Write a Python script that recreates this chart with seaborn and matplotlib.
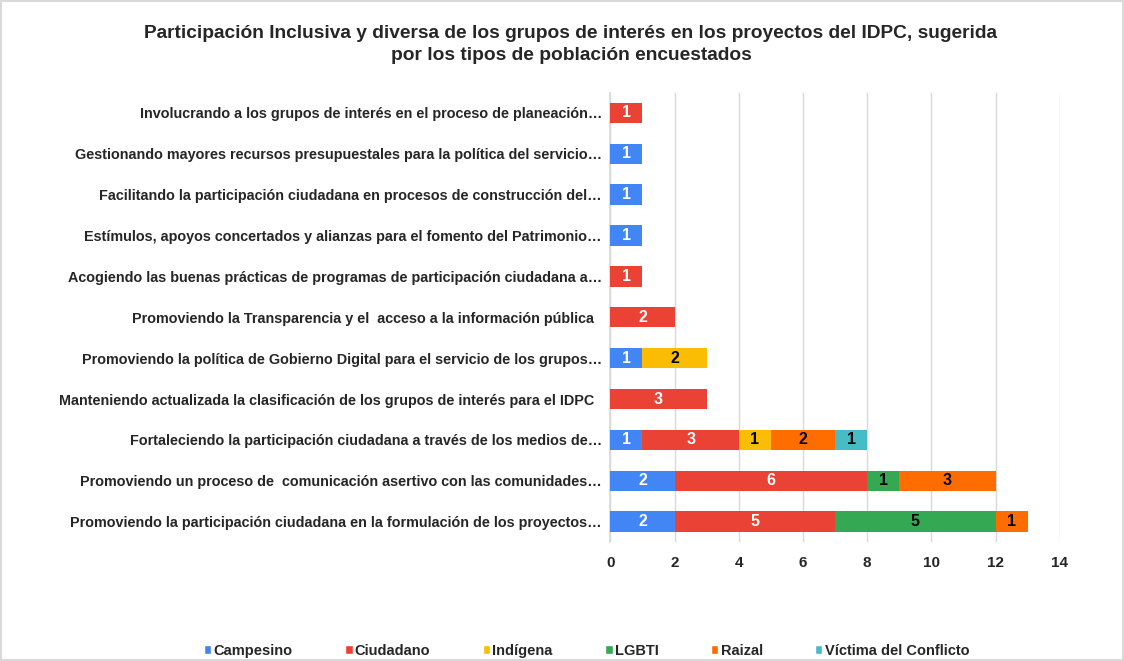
import matplotlib
matplotlib.use("Agg")
import matplotlib.pyplot as plt
import seaborn as sns
import pandas as pd
import numpy as np
from matplotlib.patches import Patch

categories = [
    "Involucrando a los grupos de interés en el proceso de planeación…",
    "Gestionando mayores recursos presupuestales para la política del servicio…",
    "Facilitando la participación ciudadana en procesos de construcción del…",
    "Estímulos, apoyos concertados y alianzas para el fomento del Patrimonio…",
    "Acogiendo las buenas prácticas de programas de participación ciudadana a…",
    "Promoviendo la Transparencia y el  acceso a la información pública  ",
    "Promoviendo la política de Gobierno Digital para el servicio de los grupos…",
    "Manteniendo actualizada la clasificación de los grupos de interés para el IDPC  ",
    "Fortaleciendo la participación ciudadana a través de los medios de…",
    "Promoviendo un proceso de  comunicación asertivo con las comunidades…",
    "Promoviendo la participación ciudadana en la formulación de los proyectos…",
]
series = ["Campesino", "Ciudadano", "Indígena", "LGBTI", "Raizal", "Víctima del Conflicto"]
campesino = [0, 1, 1, 1, 0, 0, 1, 0, 1, 2, 2]
ciudadano = [1, 0, 0, 0, 1, 2, 0, 3, 3, 6, 5]
indigena  = [0, 0, 0, 0, 0, 0, 2, 0, 1, 0, 0]
lgbti     = [0, 0, 0, 0, 0, 0, 0, 0, 0, 1, 5]
raizal    = [0, 0, 0, 0, 0, 0, 0, 0, 2, 3, 1]
victima   = [0, 0, 0, 0, 0, 0, 0, 0, 1, 0, 0]
xticks = [0, 2, 4, 6, 8, 10, 12, 14]

colors = ["#4285F4", "#EA4335", "#FBBC04", "#34A853", "#FF6D01", "#46BDC6"]
label_colors = ["white", "white", "black", "black", "black", "black"]

values = [campesino, ciudadano, indigena, lgbti, raizal, victima]
df = pd.DataFrame({s: v for s, v in zip(series, values)})
df["cat"] = categories
cum = df[series].cumsum(axis=1)

sns.set_theme(style="white")
plt.rcParams["font.family"] = ["Liberation Sans", "DejaVu Sans"]

fig = plt.figure(figsize=(11.24, 6.61), dpi=100)
ax = fig.add_axes([0.543, 0.18, 0.40, 0.68])

for i in range(len(series) - 1, -1, -1):
    d = pd.DataFrame({"cat": categories, "val": cum[series[i]].values})
    sns.barplot(data=d, y="cat", x="val", orient="h", color=colors[i],
                width=0.5, ax=ax, saturation=1, linewidth=0, zorder=3)

# labels
for i, s in enumerate(series):
    start = cum[s].values - df[s].values
    for j, v in enumerate(df[s].values):
        if v > 0:
            ax.text(start[j] + v / 2, j, str(v), ha="center", va="center",
                    color=label_colors[i], fontsize=11.5, fontweight="bold", zorder=5)

ax.set_xlim(0, 14)
ax.set_xticks(xticks)
ax.set_xticklabels([str(t) for t in xticks], fontsize=11, fontweight="bold")
ax.set_ylabel("")
ax.set_xlabel("")
ax.set_yticks(range(len(categories)))
ax.set_yticklabels(categories, fontsize=10.4, fontweight="bold")
ax.tick_params(axis="y", length=0, pad=6)
ax.tick_params(axis="x", length=0, pad=10)
ax.grid(axis="x", color="#D9D9D9", linewidth=1, zorder=0)
for sp in ["top", "right", "bottom"]:
    ax.spines[sp].set_visible(False)
ax.spines["left"].set_color("#D9D9D9")

fig.suptitle("Participación Inclusiva y diversa de los grupos de interés en los proyectos del IDPC, sugerida\npor los tipos de población encuestados",
             x=0.508, y=0.962, fontsize=13.8, fontweight="bold", linespacing=1.4)

handles = [Patch(facecolor=c, label=s) for c, s in zip(colors, series)]
fig.legend(handles=handles, loc="lower center", bbox_to_anchor=(0.522, -0.015), ncol=6,
           frameon=False, prop={"weight": "bold", "size": 10.5},
           handlelength=0.5, handleheight=0.5, handletextpad=0.15, columnspacing=3.6)

fig.patch.set_edgecolor("#D9D9D9")
fig.patch.set_linewidth(1.5)
fig.savefig("out.png", dpi=100, edgecolor=fig.get_edgecolor())
